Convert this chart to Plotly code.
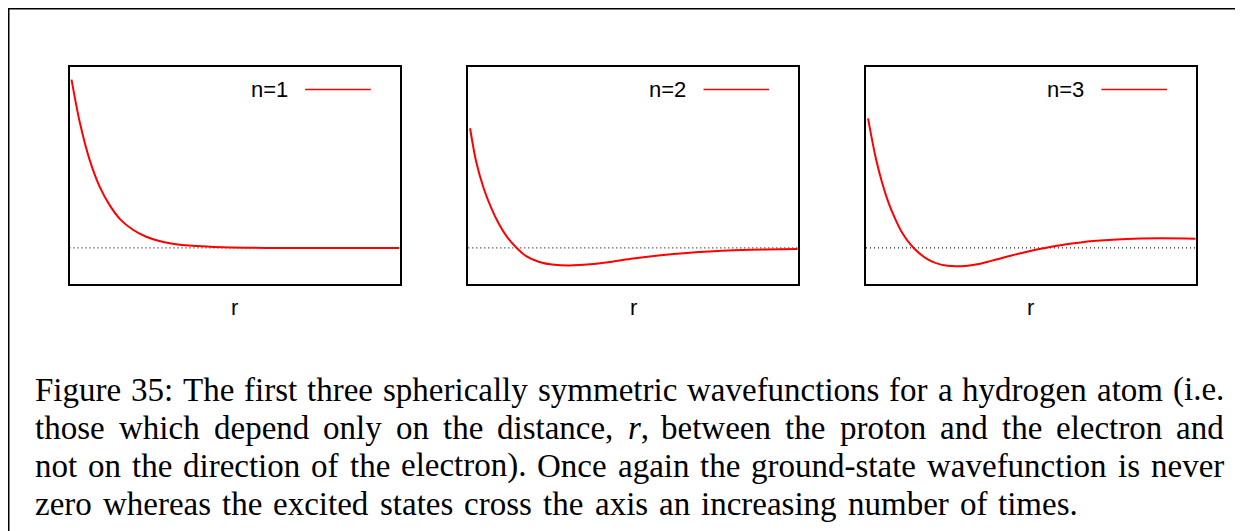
import plotly.graph_objects as go

# ---------------- data ----------------
R_RANGE = [0.0, 13.0]
PSI_RANGE = [-0.214, 1.073]

r1 = [0.08, 0.4, 0.8, 1.2, 1.6, 2.0, 2.5, 3.0, 3.5, 4.0, 5.0, 6.0, 7.0, 8.5, 10.0, 13.0]
psi1 = [1.0, 0.75, 0.52, 0.36, 0.25, 0.17, 0.108, 0.068, 0.043, 0.027, 0.011, 0.004, 0.0015, 0.0, 0.0, 0.0]

r2 = [0.07, 0.3, 0.6, 0.9, 1.2, 1.5, 1.91, 2.3, 2.8, 3.4, 4.0, 4.8, 5.6, 6.5, 7.5, 8.5, 9.5, 10.5, 11.7, 13.0]
psi2 = [0.711, 0.52, 0.358, 0.240, 0.145, 0.072, 0.0, -0.05, -0.083, -0.1, -0.104, -0.097, -0.083,
        -0.063, -0.045, -0.031, -0.021, -0.014, -0.009, -0.006]

r3 = [0.08, 0.37, 0.63, 0.89, 1.16, 1.42, 1.88, 2.47, 2.95, 3.52, 4.0, 4.44, 4.9, 5.3, 5.7, 6.1,
      6.6, 7.06, 7.9, 8.96, 10.27, 11.6, 13.0]
psi3 = [0.77, 0.545, 0.39, 0.268, 0.170, 0.092, 0.0, -0.071, -0.099, -0.109, -0.105, -0.095, -0.078,
        -0.062, -0.046, -0.031, -0.014, 0.0, 0.022, 0.042, 0.054, 0.057, 0.055]

labels = ["n=1", "n=2", "n=3"]
x_label = "r"

caption_lines = [
    "Figure 35: The first three spherically symmetric wavefunctions for a hydrogen atom (i.e.",
    "those which depend only on the distance, <i>r</i>, between the proton and the electron and",
    "not on the direction of the electron). Once again the ground-state wavefunction is never",
    "zero whereas the excited states cross the axis an increasing number of times.",
]

# ---------------- layout helpers ----------------
PAGE_MARGIN = 8          # default body margin of the html page
W, H = 1243 - PAGE_MARGIN, 531 - PAGE_MARGIN


def px(x):
    return (x - PAGE_MARGIN) / W


def py(y):
    return 1 - (y - PAGE_MARGIN) / H


panel_x = [(69.5, 399.5), (468.3, 797.7), (866.0, 1195.7)]
panel_y = (67.3, 284.0)

fig = go.Figure()

series = [(r1, psi1), (r2, psi2), (r3, psi3)]
shapes = []
annotations = []
layout_axes = {}
SANS = dict(family="Liberation Sans, Arial, sans-serif", size=22, color="#000")

for i, ((r, psi), label) in enumerate(zip(series, labels)):
    sfx = "" if i == 0 else str(i + 1)
    xa, ya = "x" + sfx, "y" + sfx
    fig.add_trace(go.Scatter(
        x=r, y=psi, mode="lines",
        line=dict(color="#ff0000", width=2, shape="spline", smoothing=0.8),
        xaxis=xa, yaxis=ya, showlegend=False, hoverinfo="skip"))
    ax_common = dict(showticklabels=False, ticks="", showgrid=False, zeroline=False,
                     showline=True, mirror=True, linecolor="#000000", linewidth=2,
                     fixedrange=True)
    layout_axes["xaxis" + sfx] = dict(ax_common, range=R_RANGE,
                                      domain=[px(panel_x[i][0]), px(panel_x[i][1])],
                                      anchor=ya)
    layout_axes["yaxis" + sfx] = dict(ax_common, range=PSI_RANGE,
                                      domain=[py(panel_y[1]), py(panel_y[0])],
                                      anchor=xa)
    # dotted zero line
    shapes.append(dict(type="line", xref=xa + " domain", yref=ya, x0=0, x1=1, y0=0, y1=0,
                       line=dict(color="#222222", width=1.3, dash="1px,3px"), layer="below"))
    # key sample
    shapes.append(dict(type="line", xref=xa + " domain", yref=ya + " domain",
                       x0=0.714, x1=0.913, y0=0.898, y1=0.898,
                       line=dict(color="#ff0000", width=1.5)))
    annotations.append(dict(text=label, xref=xa + " domain", yref=ya + " domain",
                            x=0.667, y=0.898, xanchor="right", yanchor="middle",
                            showarrow=False, font=SANS))
    annotations.append(dict(text=x_label, xref=xa + " domain", yref=ya + " domain",
                            x=0.5, y=-0.108, xanchor="center", yanchor="middle",
                            showarrow=False, font=SANS))

# page frame (top and left edges)
shapes.append(dict(type="line", xref="paper", yref="paper", x0=0.0, x1=1.0,
                   y0=1 - 0.75 / H, y1=1 - 0.75 / H, line=dict(color="#000", width=1.5)))
shapes.append(dict(type="line", xref="paper", yref="paper", x0=0.75 / W, x1=0.75 / W,
                   y0=1.0, y1=0.0, line=dict(color="#000", width=1.5)))

# ---------------- caption (justified by word placement) ----------------
TIMES = {
    'a': 444, 'b': 500, 'c': 444, 'd': 500, 'e': 444, 'f': 333, 'g': 500, 'h': 500,
    'i': 278, 'j': 278, 'k': 500, 'l': 278, 'm': 778, 'n': 500, 'o': 500, 'p': 500,
    'q': 500, 'r': 333, 's': 389, 't': 278, 'u': 500, 'v': 500, 'w': 722, 'x': 500,
    'y': 500, 'z': 444, 'F': 556, 'T': 611, 'O': 722, '3': 500, '5': 500, ':': 278,
    '(': 333, ')': 333, '.': 250, ',': 250, '-': 333,
}
CAP_SIZE = 33
CAP_FONT = dict(family="Liberation Serif, Times New Roman, serif", size=CAP_SIZE, color="#000")


def word_width(w):
    plain = w.replace("<i>", "").replace("</i>", "")
    return sum(TIMES.get(c, 500) for c in plain) / 1000.0 * CAP_SIZE


left_edge = 34.0
right_edges = [1223.0, 1223.0, 1223.0, 1077.0]
baselines = [401.0, 439.0, 477.0, 515.0]

for line, right, base in zip(caption_lines, right_edges, baselines):
    words = line.split(" ")
    widths = [word_width(w) for w in words]
    gap = (right - left_edge - sum(widths)) / (len(words) - 1)
    xcur = left_edge
    ycenter = base - 0.34 * CAP_SIZE
    for w, wd in zip(words, widths):
        annotations.append(dict(text=w, xref="paper", yref="paper", x=px(xcur), y=py(ycenter),
                                xanchor="left", yanchor="middle", showarrow=False,
                                font=CAP_FONT, borderpad=0))
        xcur += wd + gap

fig.update_layout(
    width=W, height=H, autosize=False,
    margin=dict(l=0, r=0, t=0, b=0, pad=0),
    paper_bgcolor="#ffffff", plot_bgcolor="#ffffff",
    shapes=shapes, annotations=annotations, showlegend=False,
    **layout_axes,
)

fig.write_html("out.html", config={"displayModeBar": False})
